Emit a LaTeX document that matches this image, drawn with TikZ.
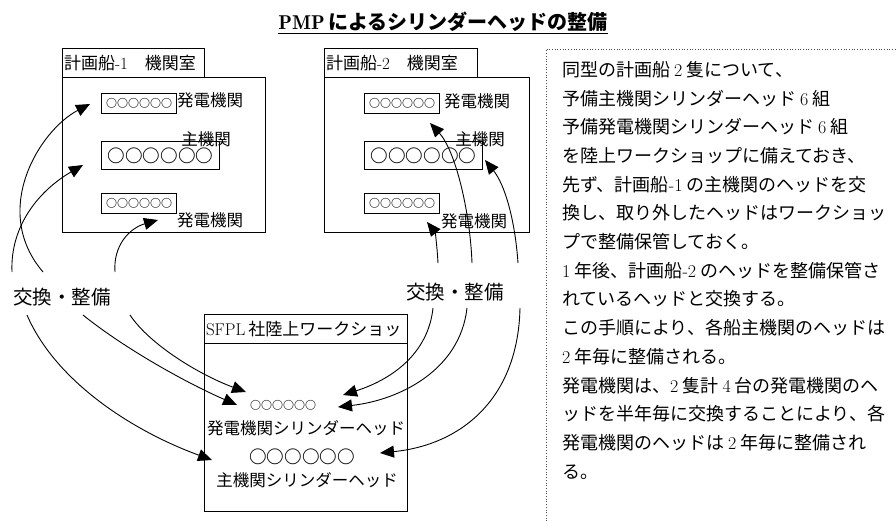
\documentclass[tikz,border=0pt]{standalone}
\usepackage{fontspec}
\edef\lmfamname{\rmdefault}
\setmainfont{Noto Sans CJK JP}
\newcommand\lm{\fontfamily{\lmfamname}\selectfont}
\usetikzlibrary{arrows.meta}
\begin{document}
\begin{tikzpicture}[x=1pt,y=-1pt,
  box/.style={draw, line width=1.1pt, inner sep=0pt, anchor=north west},
  tabbox/.style={box, align=left, inner xsep=1.5pt, minimum height=29pt, font=\fontsize{17}{18}\selectfont},
  lab/.style={inner sep=0pt, font=\fontsize{16.5}{18}\selectfont},
  xlab/.style={inner sep=0pt, font=\fontsize{19.5}{22}\selectfont},
  smallc/.style={font=\fontsize{11}{12}\selectfont\bfseries},
  bigc/.style={font=\fontsize{17.6}{19}\selectfont\bfseries},
  arr/.style={-{Triangle[length=14pt,width=12pt]}, line width=0.9pt}]
\useasboundingbox (0,0) rectangle (896,521);

% title
\node (title) at (443,23) {\fontsize{20}{24}\selectfont\underline{{\lm\bfseries PMP}\,\bfseries によるシリンダーヘッドの整備}};

% ship 1
\node[box, minimum width=203pt, minimum height=155pt] (s1room) at (62,77) {};
\node[tabbox, text width=139pt] (s1tab) at (62,48) {計画船{\lm -1}　機関室};
\node[box, smallc, minimum width=75pt, minimum height=20pt] (s1g1) at (101,93) {○○○○○○};
\node[box, bigc, minimum width=118pt, minimum height=28pt] (s1m) at (101,141) {○○○○○○};
\node[box, smallc, minimum width=75pt, minimum height=20pt] (s1g2) at (101,193) {○○○○○○};
\node[lab] (s1g1l) at (210,100) {発電機関};
\node[lab] (s1ml) at (206,139) {主機関};
\node[lab] (s1g2l) at (210,220) {発電機関};

% ship 2
\node[box, minimum width=205pt, minimum height=155pt] (s2room) at (324,77) {};
\node[tabbox, text width=150pt] (s2tab) at (324,48) {計画船{\lm -2}　機関室};
\node[box, smallc, minimum width=75pt, minimum height=20pt] (s2g1) at (364,93) {○○○○○○};
\node[box, bigc, minimum width=118pt, minimum height=28pt] (s2m) at (364,141) {○○○○○○};
\node[box, smallc, minimum width=75pt, minimum height=20pt] (s2g2) at (364,193) {○○○○○○};
\node[lab] (s2g1l) at (477,101) {発電機関};
\node[lab] (s2ml) at (480,139) {主機関};
\node[lab] (s2g2l) at (474,221) {発電機関};

% workshop
\node[box, minimum width=203pt, minimum height=168pt] (ws) at (204,343) {};
\node[tabbox, text width=200pt] (wstab) at (204,314) {{\lm SFPL}\,社陸上ワークショッ};
\node[smallc] (wsg) at (283,405) {○○○○○○};
\node[lab] (wsgl) at (306,428) {発電機関シリンダーヘッド};
\node[bigc] (wsm) at (302,457) {○○○○○○};
\node[lab] (wsml) at (307,480) {主機関シリンダーヘッド};

% exchange labels
\node[xlab] (xl) at (62,297) {交換・整備};
\node[xlab] (xr) at (455,292) {交換・整備};

% curve ends
\coordinate (a1s) at (43,272);  \coordinate (a1e) at (90,104);
\coordinate (a2s) at (12,272);  \coordinate (a2e) at (83,165);
\coordinate (a3s) at (115,272); \coordinate (a3e) at (158,220);
\coordinate (b1s) at (27,315);  \coordinate (b1e) at (212,460);
\coordinate (b2s) at (83,315);  \coordinate (b2e) at (237,405);
\coordinate (b3s) at (130,315); \coordinate (b3e) at (246,392);
\coordinate (c1s) at (472,263); \coordinate (c1e) at (430,123);
\coordinate (c2s) at (518,263); \coordinate (c2e) at (485,160);
\coordinate (c3s) at (438,263); \coordinate (c3e) at (427,222);
\coordinate (d1s) at (433,308); \coordinate (d1e) at (343,395);
\coordinate (d2s) at (467,308); \coordinate (d2e) at (338,407);
\coordinate (d3s) at (520,308); \coordinate (d3e) at (380,453);

\draw[arr] (a1s) .. controls (-10,210) and (40,130) .. (a1e);
\draw[arr] (a2s) .. controls (10,225) and (40,190) .. (a2e);
\draw[arr] (a3s) .. controls (113,245) and (130,228) .. (a3e);
\draw[arr] (b1s) .. controls (55,380) and (130,430) .. (b1e);
\draw[arr] (b2s) .. controls (120,345) and (180,380) .. (b2e);
\draw[arr] (b3s) .. controls (150,345) and (200,375) .. (b3e);
\draw[arr] (c1s) .. controls (470,210) and (455,150) .. (c1e);
\draw[arr] (c2s) .. controls (515,220) and (505,185) .. (c2e);
\draw[arr] (c3s) .. controls (437,245) and (435,232) .. (c3e);
\draw[arr] (d1s) .. controls (428,355) and (390,380) .. (d1e);
\draw[arr] (d2s) .. controls (460,370) and (400,400) .. (d2e);
\draw[arr] (d3s) .. controls (518,400) and (460,445) .. (d3e);

% text panel
\coordinate (pbl) at (546,521); \coordinate (ptl) at (546,49); \coordinate (ptr) at (896,49);
\draw[dotted, line width=0.7pt, black!70] (pbl) -- (ptl) -- (ptr);
\node[anchor=north west, inner sep=0pt, align=left, font=\fontsize{18}{28.7}\selectfont] (txt) at (562,61) {%
同型の計画船 {\lm 2} 隻について、\\
予備主機関シリンダーヘッド {\lm 6} 組\\
予備発電機関シリンダーヘッド {\lm 6} 組\\
を陸上ワークショップに備えておき、\\
先ず、計画船{\lm -1} の主機関のヘッドを交\\
換し、取り外したヘッドはワークショッ\\
プで整備保管しておく。\\
{\lm 1} 年後、計画船{\lm -2} のヘッドを整備保管さ\\
れているヘッドと交換する。\\
この手順により、各船主機関のヘッドは\\
{\lm 2} 年毎に整備される。\\
発電機関は、{\lm 2} 隻計 {\lm 4} 台の発電機関のヘ\\
ッドを半年毎に交換することにより、各\\
発電機関のヘッドは {\lm 2} 年毎に整備され\\
る。};
\end{tikzpicture}
\end{document}
